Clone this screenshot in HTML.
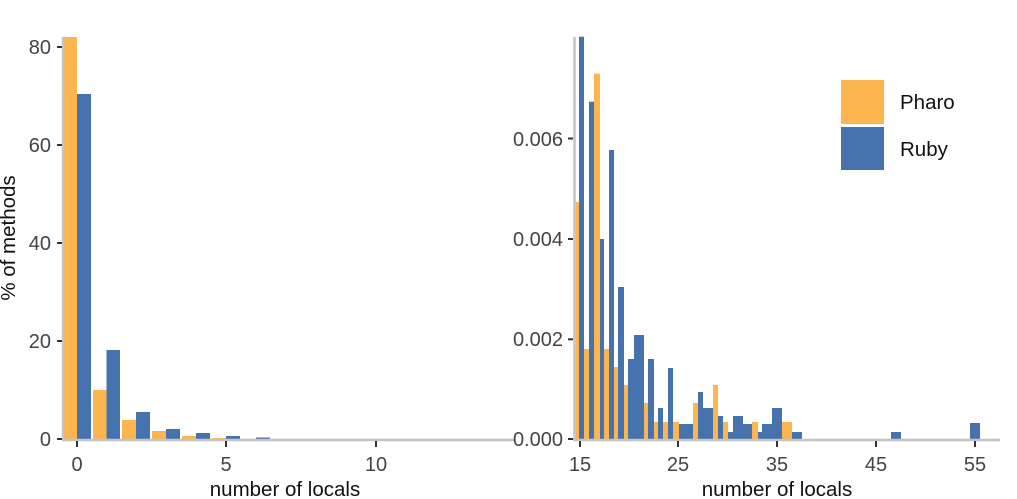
<!DOCTYPE html>
<html><head><meta charset="utf-8"><style>
html,body{margin:0;padding:0;background:#fff;}
svg{display:block;font-family:"Liberation Sans",sans-serif;}
</style></head><body>
<svg width="1017" height="499" viewBox="0 0 1017 499" xmlns="http://www.w3.org/2000/svg">
<!-- LEFT PANEL -->
<g>
<rect x="64" y="37" width="13" height="402" fill="#FDB54F"/>
<rect x="77" y="94" width="14" height="345" fill="#4673AE"/>
<rect x="93" y="390" width="13.5" height="49" fill="#FDB54F"/>
<rect x="106.5" y="350" width="13.5" height="89" fill="#4673AE"/>
<rect x="122" y="420" width="14" height="19" fill="#FDB54F"/>
<rect x="136" y="412" width="14" height="27" fill="#4673AE"/>
<rect x="152" y="431" width="14" height="8" fill="#FDB54F"/>
<rect x="166" y="429" width="14" height="10" fill="#4673AE"/>
<rect x="182" y="436" width="14" height="3" fill="#FDB54F"/>
<rect x="196" y="433" width="14" height="6" fill="#4673AE"/>
<rect x="212" y="438" width="14" height="1" fill="#FDB54F"/>
<rect x="226" y="436" width="14" height="3" fill="#4673AE"/>
<rect x="256" y="437.5" width="14" height="1.5" fill="#4673AE"/>
<line x1="63" y1="37" x2="63" y2="440" stroke="#c4c4c4" stroke-width="2.5"/>
<line x1="62" y1="440" x2="515" y2="440" stroke="#c4c4c4" stroke-width="2.5"/>
<g stroke="#333" stroke-width="2">
<line x1="57" y1="47" x2="62" y2="47"/><line x1="57" y1="145" x2="62" y2="145"/>
<line x1="57" y1="243" x2="62" y2="243"/><line x1="57" y1="341" x2="62" y2="341"/>
<line x1="57" y1="439" x2="62" y2="439"/>
<line x1="77" y1="441" x2="77" y2="447"/><line x1="226" y1="441" x2="226" y2="447"/><line x1="376" y1="441" x2="376" y2="447"/>
</g>
<g fill="#444" font-size="20" text-anchor="end">
<text x="51" y="54">80</text><text x="51" y="152">60</text><text x="51" y="250">40</text><text x="51" y="348">20</text><text x="51" y="446">0</text>
</g>
<g fill="#444" font-size="20" text-anchor="middle">
<text x="77" y="471">0</text><text x="226" y="471">5</text><text x="376" y="471">10</text>
</g>
<text x="285" y="496" font-size="20.5" fill="#111" text-anchor="middle">number of locals</text>
<text transform="translate(15,238) rotate(-90)" font-size="20.5" fill="#111" text-anchor="middle">% of methods</text>
</g>
<!-- RIGHT PANEL -->
<g fill="#FDB54F">
<rect x="575.7" y="202" width="4.3" height="237"/>
<rect x="584" y="349" width="6" height="90"/>
<rect x="594" y="73.7" width="6" height="365.3"/>
<rect x="604" y="349" width="6" height="90"/>
<rect x="614" y="367" width="5" height="72"/>
<rect x="624" y="385" width="5" height="54"/>
<rect x="644" y="403" width="5" height="36"/>
<rect x="654" y="422" width="5" height="17"/>
<rect x="663" y="422" width="6" height="17"/>
<rect x="673" y="422" width="6" height="17"/>
<rect x="693" y="403" width="6" height="36"/>
<rect x="713" y="385" width="5" height="54"/>
<rect x="723" y="422" width="5" height="17"/>
<rect x="752" y="422" width="6" height="17"/>
<rect x="782" y="422" width="10" height="17"/>
</g>
<g fill="#4673AE">
<rect x="579" y="36.7" width="5" height="402.3"/>
<rect x="589" y="101.7" width="5" height="337.3"/>
<rect x="600" y="239" width="4" height="200"/>
<rect x="609" y="150" width="5" height="289"/>
<rect x="618" y="287" width="6" height="152"/>
<rect x="628" y="359" width="6" height="80"/>
<rect x="634" y="335" width="10" height="104"/>
<rect x="648" y="359" width="6" height="80"/>
<rect x="658" y="408" width="5" height="31"/>
<rect x="668" y="368" width="5" height="71"/>
<rect x="679" y="424" width="14" height="15"/>
<rect x="698" y="392" width="5" height="47"/>
<rect x="703" y="408" width="10" height="31"/>
<rect x="718" y="416" width="5" height="23"/>
<rect x="728" y="432" width="5" height="7"/>
<rect x="733" y="416" width="10" height="23"/>
<rect x="743" y="424" width="9" height="15"/>
<rect x="758" y="432" width="4" height="7"/>
<rect x="762" y="424" width="10" height="15"/>
<rect x="772" y="408" width="10" height="31"/>
<rect x="792" y="432" width="10" height="7"/>
<rect x="891" y="432" width="10" height="7"/>
<rect x="970" y="423" width="10" height="16"/>
</g>
<line x1="574.5" y1="37" x2="574.5" y2="440" stroke="#c4c4c4" stroke-width="2.5"/>
<line x1="573" y1="440" x2="1000" y2="440" stroke="#c4c4c4" stroke-width="2.5"/>
<g stroke="#333" stroke-width="2">
<line x1="568" y1="138.5" x2="573" y2="138.5"/><line x1="568" y1="239" x2="573" y2="239"/>
<line x1="568" y1="339.3" x2="573" y2="339.3"/><line x1="568" y1="439" x2="573" y2="439"/>
<line x1="580" y1="441" x2="580" y2="447"/><line x1="678" y1="441" x2="678" y2="447"/><line x1="777" y1="441" x2="777" y2="447"/><line x1="876" y1="441" x2="876" y2="447"/><line x1="975" y1="441" x2="975" y2="447"/>
</g>
<g fill="#444" font-size="20" text-anchor="end">
<text x="563" y="146">0.006</text><text x="563" y="246">0.004</text><text x="563" y="346">0.002</text><text x="563" y="446">0.000</text>
</g>
<g fill="#444" font-size="20" text-anchor="middle">
<text x="580" y="471">15</text><text x="678" y="471">25</text><text x="777" y="471">35</text><text x="876" y="471">45</text><text x="975" y="471">55</text>
</g>
<text x="777" y="496" font-size="20.5" fill="#111" text-anchor="middle">number of locals</text>
<!-- legend -->
<rect x="841" y="80" width="43" height="44" fill="#FDB54F"/>
<rect x="841" y="127" width="43" height="43" fill="#4673AE"/>
<text x="900" y="109" font-size="20.5" fill="#111">Pharo</text>
<text x="900" y="156" font-size="20.5" fill="#111">Ruby</text>
</svg>
</body></html>
